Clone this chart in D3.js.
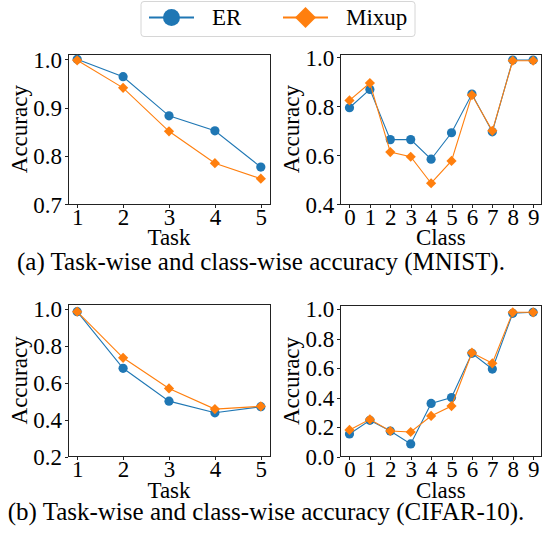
<!DOCTYPE html>
<html>
  <head>
    <meta charset="utf-8">
    <script src="https://cdn.jsdelivr.net/npm/d3@7"></script>
    <style>
      body { margin: 0; background: #fff; }
      .axis path, .axis line { stroke: #222; stroke-width: 1; shape-rendering: crispEdges; }
    </style>
  </head>
  <body>
    <script>
      // data
      var tasks = [1, 2, 3, 4, 5];
      var classes = [0, 1, 2, 3, 4, 5, 6, 7, 8, 9];
      var seriesNames = ["ER", "Mixup"];

      var mnistTaskER    = [1.0, 0.964, 0.883, 0.852, 0.777];
      var mnistTaskMixup = [0.998, 0.941, 0.851, 0.785, 0.753];
      var mnistClassER    = [0.794, 0.869, 0.664, 0.664, 0.584, 0.692, 0.850, 0.696, 0.989, 0.989];
      var mnistClassMixup = [0.824, 0.895, 0.613, 0.594, 0.486, 0.577, 0.846, 0.700, 0.986, 0.986];

      var cifarTaskER    = [0.985, 0.678, 0.500, 0.437, 0.470];
      var cifarTaskMixup = [0.985, 0.735, 0.569, 0.457, 0.472];
      var cifarClassER    = [0.153, 0.245, 0.173, 0.085, 0.360, 0.400, 0.700, 0.593, 0.971, 0.978];
      var cifarClassMixup = [0.180, 0.252, 0.173, 0.166, 0.275, 0.342, 0.704, 0.632, 0.978, 0.978];

      var mnistTaskTicks  = [0.7, 0.8, 0.9, 1.0];
      var mnistClassTicks = [0.4, 0.6, 0.8, 1.0];
      var cifarTaskTicks  = [0.2, 0.4, 0.6, 0.8, 1.0];
      var cifarClassTicks = [0.0, 0.2, 0.4, 0.6, 0.8, 1.0];

      var captions = [
        "(a) Task-wise and class-wise accuracy (MNIST).",
        "(b) Task-wise and class-wise accuracy (CIFAR-10)."
      ];

      var colors = { "ER": "#1f77b4", "Mixup": "#ff7f0e" };
      var serif = "'Liberation Serif', 'Times New Roman', Times, 'DejaVu Serif', serif";

      var svg = d3.select("body").append("svg")
        .attr("width", 544)
        .attr("height", 546);

      var diamond = d3.symbol().type(d3.symbolSquare).size(52);

      function drawPanel(opts) {
        var x = d3.scaleLinear().domain(opts.xDomain).range([opts.left, opts.right]);
        var y = d3.scaleLinear().domain(opts.yDomain).range([opts.bottom, opts.top]);

        // x axis
        var gx = svg.append("g")
          .attr("class", "axis")
          .attr("transform", "translate(0," + opts.bottom + ")")
          .call(d3.axisBottom(x).tickValues(opts.xs).tickFormat(d3.format("d")).tickSize(3.5).tickPadding(1));

        // y axis
        var gy = svg.append("g")
          .attr("class", "axis")
          .attr("transform", "translate(" + opts.left + ",0)")
          .call(d3.axisLeft(y).tickValues(opts.yTicks).tickFormat(d3.format(".1f")).tickSize(3.5).tickPadding(2.5));

        [gx, gy].forEach(function(g) {
          g.attr("font-family", serif).attr("font-size", 23);
          g.selectAll("text").attr("fill", "#000").style("font-family", serif).style("font-size", "23px");
          g.select(".domain").remove();
        });
        gy.selectAll("text").attr("dy", "0.34em");

        // frame
        svg.append("rect")
          .attr("x", opts.left).attr("y", opts.top)
          .attr("width", opts.right - opts.left)
          .attr("height", opts.bottom - opts.top)
          .attr("fill", "none")
          .attr("stroke", "#222")
          .attr("shape-rendering", "crispEdges");

        var line = d3.line()
          .x(function(d, i) { return x(opts.xs[i]); })
          .y(function(d) { return y(d); });

        // ER
        svg.append("path")
          .attr("d", line(opts.er))
          .attr("fill", "none")
          .attr("stroke", colors.ER)
          .attr("stroke-width", 1.1);
        svg.selectAll(null)
          .data(opts.er)
          .enter()
          .append("circle")
          .attr("cx", function(d, i) { return x(opts.xs[i]); })
          .attr("cy", function(d) { return y(d); })
          .attr("r", 4.6)
          .attr("fill", colors.ER);

        // Mixup
        svg.append("path")
          .attr("d", line(opts.mix))
          .attr("fill", "none")
          .attr("stroke", colors.Mixup)
          .attr("stroke-width", 1.1);
        svg.selectAll(null)
          .data(opts.mix)
          .enter()
          .append("path")
          .attr("d", diamond)
          .attr("transform", function(d, i) {
            return "translate(" + x(opts.xs[i]) + "," + y(d) + ") rotate(45)";
          })
          .attr("fill", colors.Mixup);

        // axis labels
        svg.append("text")
          .attr("x", (opts.left + opts.right) / 2)
          .attr("y", opts.bottom + 41)
          .attr("text-anchor", "middle")
          .style("font-family", serif)
          .style("font-size", "23px")
          .text(opts.xLabel);

        svg.append("text")
          .attr("text-anchor", "middle")
          .attr("transform", "translate(" + (opts.left - 41) + "," + ((opts.top + opts.bottom) / 2) + ")rotate(-90)")
          .style("font-family", serif)
          .style("font-size", "23px")
          .text("Accuracy");
      }

      drawPanel({ left: 68, right: 270, top: 54, bottom: 204.3,
        xDomain: [0.8, 5.2], yDomain: [0.7, 1.011], xs: tasks, yTicks: mnistTaskTicks,
        er: mnistTaskER, mix: mnistTaskMixup, xLabel: "Task" });

      drawPanel({ left: 340.3, right: 541.3, top: 54, bottom: 204.3,
        xDomain: [-0.45, 9.4], yDomain: [0.4, 1.0135], xs: classes, yTicks: mnistClassTicks,
        er: mnistClassER, mix: mnistClassMixup, xLabel: "Class" });

      drawPanel({ left: 68, right: 270, top: 304.3, bottom: 456.5,
        xDomain: [0.8, 5.2], yDomain: [0.2, 1.025], xs: tasks, yTicks: cifarTaskTicks,
        er: cifarTaskER, mix: cifarTaskMixup, xLabel: "Task" });

      drawPanel({ left: 340.3, right: 541.3, top: 305.5, bottom: 456.5,
        xDomain: [-0.45, 9.4], yDomain: [0.0, 1.024], xs: classes, yTicks: cifarClassTicks,
        er: cifarClassER, mix: cifarClassMixup, xLabel: "Class" });

      // captions
      svg.append("text")
        .attr("x", 261).attr("y", 270)
        .attr("text-anchor", "middle")
        .style("font-family", serif)
        .style("font-size", "25px")
        .text(captions[0]);

      svg.append("text")
        .attr("x", 266).attr("y", 520)
        .attr("text-anchor", "middle")
        .style("font-family", serif)
        .style("font-size", "25px")
        .text(captions[1]);

      // legend
      var legend = svg.append("g");
      legend.append("rect")
        .attr("x", 141).attr("y", 1.5)
        .attr("width", 274).attr("height", 35)
        .attr("rx", 3)
        .attr("fill", "#fff")
        .attr("stroke", "#d6d6d6");

      var legendX = [149, 283];
      seriesNames.forEach(function(name, i) {
        var lx = legendX[i];
        legend.append("line")
          .attr("x1", lx).attr("x2", lx + 45)
          .attr("y1", 17.5).attr("y2", 17.5)
          .attr("stroke", colors[name])
          .attr("stroke-width", 2);
        if (name === "ER") {
          legend.append("circle")
            .attr("cx", lx + 22.5).attr("cy", 17.5)
            .attr("r", 8.5)
            .attr("fill", colors[name]);
        } else {
          legend.append("path")
            .attr("d", d3.symbol().type(d3.symbolSquare).size(220))
            .attr("transform", "translate(" + (lx + 22.5) + ",17.5) rotate(45)")
            .attr("fill", colors[name]);
        }
        legend.append("text")
          .attr("x", lx + 63).attr("y", 25)
          .style("font-family", serif)
          .style("font-size", "23px")
          .text(name);
      });
    </script>
  </body>
</html>
